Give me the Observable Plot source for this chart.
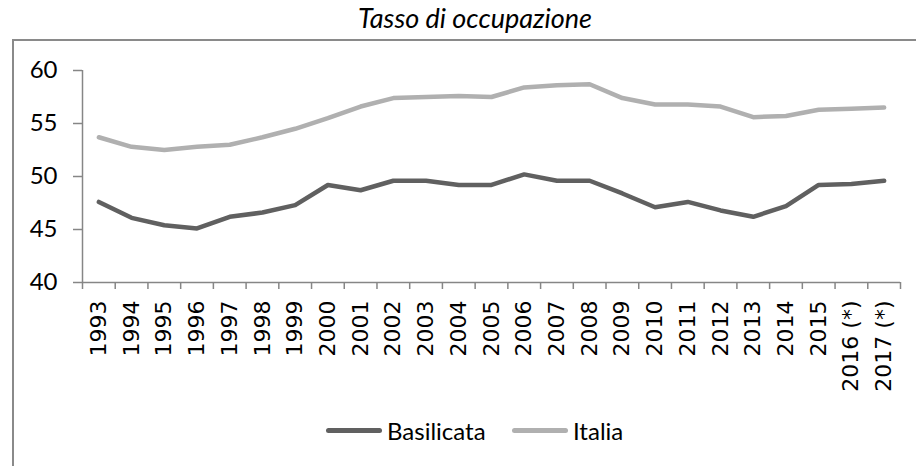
<!DOCTYPE html>
<html>
<head>
<meta charset="utf-8">
<script src="https://cdn.jsdelivr.net/npm/d3@7"></script>
<script src="https://cdn.jsdelivr.net/npm/@observablehq/plot@0.6"></script>
<style>
  html, body { margin: 0; padding: 0; background: #fff; }
  #wrap { position: relative; width: 916px; height: 466px; overflow: hidden; }
  #frame { position: absolute; left: 12px; top: 39px; width: 1000px; height: 1000px; border: 2px solid #8a8a8a; box-sizing: border-box; }
  #title { position: relative; height: 40px; width: 950px; text-align: center; font-family: Lato, "Open Sans", sans-serif; font-style: italic; font-size: 27px; line-height: 40px; color: #000; }
  #title span { position: relative; top: -2px; }
  #chart { position: relative; height: 375px; }
  #legend { position: relative; height: 30px; display: flex; align-items: center; font-family: Lato, sans-serif; font-size: 24px; color: #000; }
  .item { display: flex; align-items: center; }
  .swatch { display: inline-block; width: 56px; height: 5px; border-radius: 3px; margin-right: 5px; }
</style>
</head>
<body>
<div id="wrap">
  <div id="frame"></div>
  <div id="title"><span>Tasso di occupazione</span></div>
  <div id="chart"></div>
  <div id="legend"></div>
</div>
<script>
const years = ["1993","1994","1995","1996","1997","1998","1999","2000","2001","2002","2003","2004","2005","2006","2007","2008","2009","2010","2011","2012","2013","2014","2015","2016 (*)","2017 (*)"];
const basilicata = [47.6,46.1,45.4,45.1,46.2,46.6,47.3,49.2,48.7,49.6,49.6,49.2,49.2,50.2,49.6,49.6,48.4,47.1,47.6,46.8,46.2,47.2,49.2,49.3,49.6];
const italia = [53.7,52.8,52.5,52.8,53.0,53.7,54.5,55.5,56.6,57.4,57.5,57.6,57.5,58.4,58.6,58.7,57.4,56.8,56.8,56.6,55.6,55.7,56.3,56.4,56.5];
const seriesNames = ["Basilicata", "Italia"];
const seriesColors = ["#606060", "#b0b0b0"];
const yTicks = [40, 45, 50, 55, 60];

const rows = [];
years.forEach((yr, i) => {
  rows.push({i, year: yr, value: basilicata[i], series: "Basilicata"});
  rows.push({i, year: yr, value: italia[i], series: "Italia"});
});

const boundaries = years.map((_, i) => i - 0.5).concat([years.length - 0.5]);
const axisColor = "#868686";

const plot = Plot.plot({
  width: 916,
  height: 375,
  marginLeft: 82,
  marginRight: 16,
  marginTop: 30,
  marginBottom: 133,
  style: {background: "transparent", overflow: "visible"},
  x: {type: "linear", domain: [-0.5, years.length - 0.5], axis: null},
  y: {domain: [40, 60], axis: null},
  color: {domain: seriesNames, range: seriesColors},
  marks: [
    Plot.ruleX([-0.5], {stroke: axisColor, strokeWidth: 1.5}),
    Plot.ruleY([40], {stroke: axisColor, strokeWidth: 1.5}),
    Plot.axisY({ticks: yTicks, tickSize: 9, tickPadding: 16, stroke: axisColor, fill: "#000", fontSize: 24, fontFamily: "Lato", label: null, strokeWidth: 1.5}),
    Plot.axisX({ticks: boundaries, tickSize: 7, tickFormat: () => "", stroke: axisColor, label: null, strokeWidth: 1.5}),
    Plot.axisX({ticks: years.map((_, i) => i), tickFormat: i => years[i], tickSize: 0, tickPadding: 18, tickRotate: -90, fontSize: 22, fontFamily: "DejaVu Sans", fill: "#000", label: null}),
    Plot.line(rows, {x: "i", y: "value", z: "series", stroke: "series", strokeWidth: 4.5, strokeLinecap: "round", strokeLinejoin: "round"})
  ]
});
document.getElementById("chart").appendChild(plot);

const legend = document.getElementById("legend");
const legendStarts = [326, 512];
seriesNames.forEach((name, k) => {
  const item = document.createElement("div");
  item.className = "item";
  item.style.position = "absolute";
  item.style.left = legendStarts[k] + "px";
  const sw = document.createElement("span");
  sw.className = "swatch";
  sw.style.background = seriesColors[k];
  const label = document.createElement("span");
  label.textContent = name;
  item.appendChild(sw);
  item.appendChild(label);
  legend.appendChild(item);
});
</script>
</body>
</html>
